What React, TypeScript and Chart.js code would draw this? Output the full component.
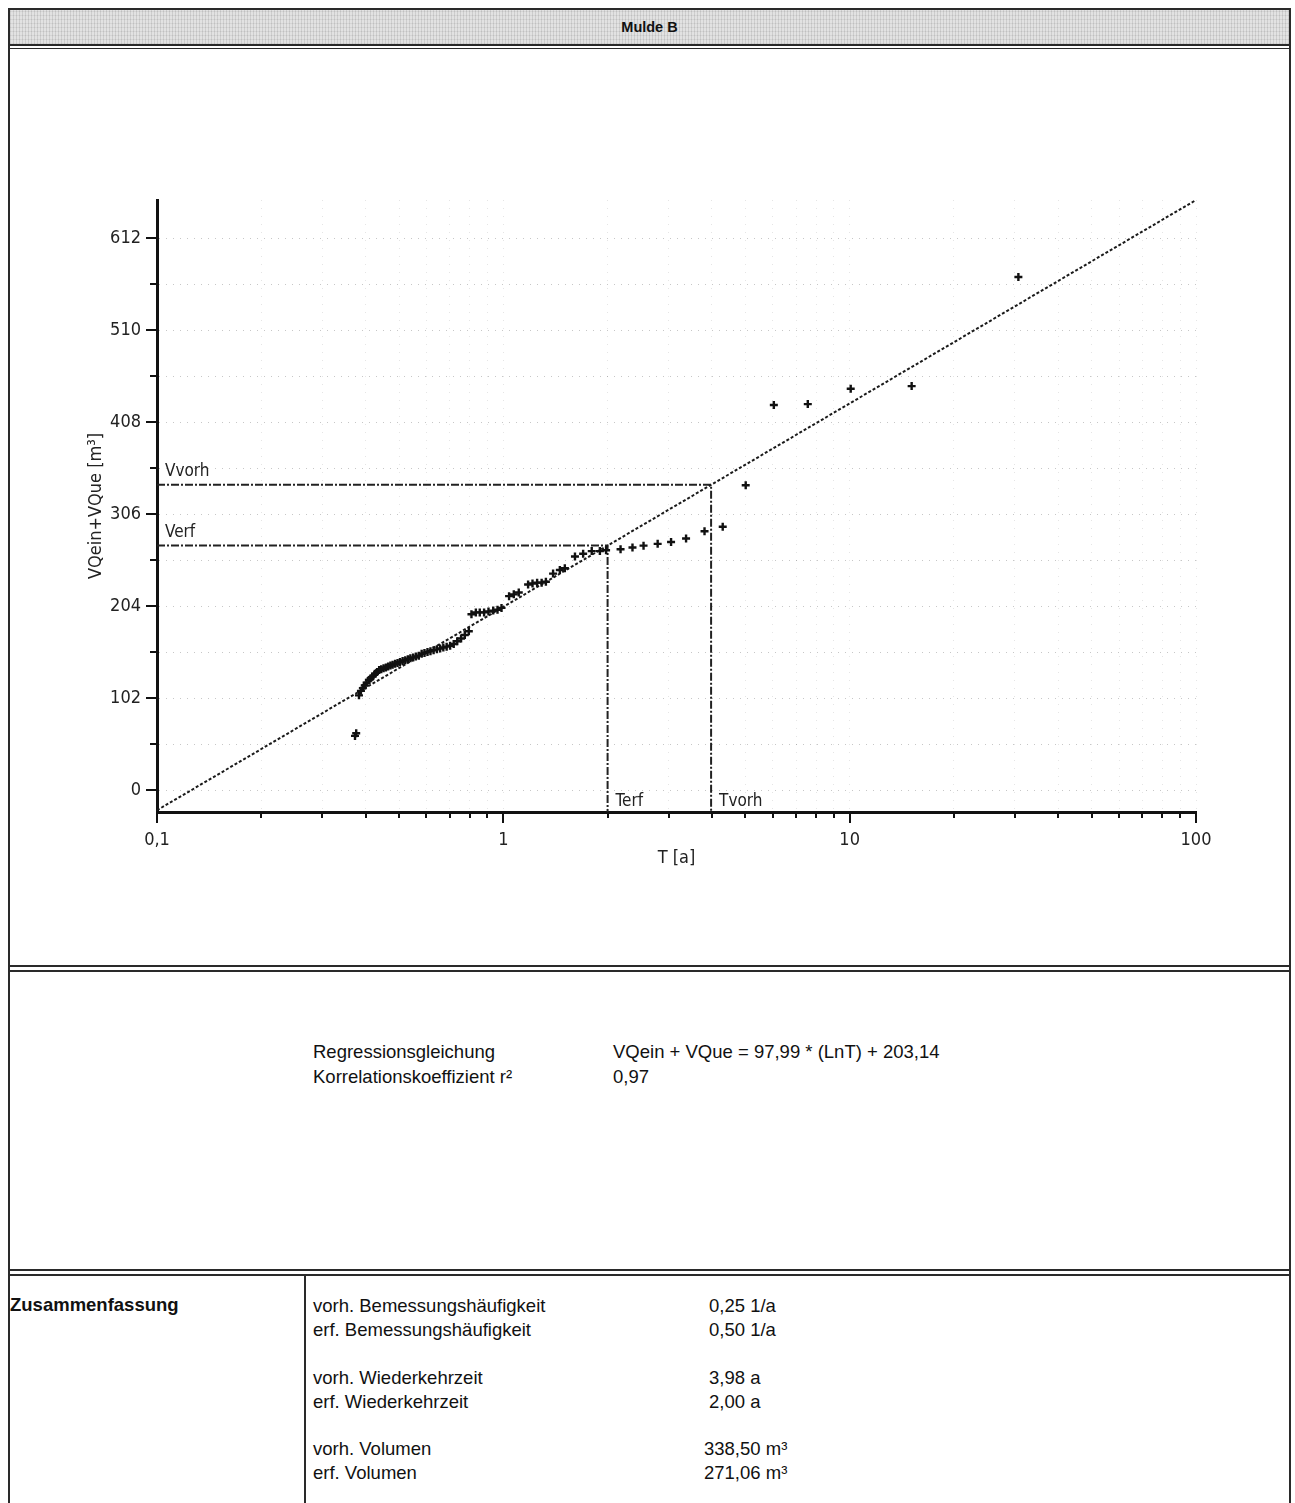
import React, { useEffect, useRef } from "react";
import { Chart, registerables } from "chart.js";
Chart.register(...registerables);

// ---- data ----
const T_VALUES = [30.7, 15.1, 10.07, 7.57, 6.04, 5.01, 4.30, 3.81, 3.37, 3.05, 2.79, 2.54, 2.36, 2.18, 1.98, 1.90, 1.80, 1.70, 1.61, 1.505, 1.456, 1.392, 1.327, 1.290, 1.252, 1.214, 1.179, 1.108, 1.072, 1.039, 0.988, 0.962, 0.935, 0.906, 0.880, 0.855, 0.833, 0.809, 0.795, 0.774, 0.755, 0.736, 0.719, 0.702, 0.686, 0.671, 0.657, 0.643, 0.629, 0.616, 0.604, 0.592, 0.581, 0.570, 0.559, 0.549, 0.539, 0.530, 0.521, 0.512, 0.503, 0.495, 0.487, 0.479, 0.472, 0.465, 0.458, 0.451, 0.444, 0.438, 0.432, 0.426, 0.420, 0.414, 0.409, 0.403, 0.398, 0.393, 0.388, 0.383, 0.376, 0.373];
const V_VALUES = [569, 448, 445, 428, 427, 338, 292, 287, 279, 275, 273, 271, 269, 267, 266, 265, 265, 262, 259, 246, 244, 240, 231, 230, 230, 229, 228, 219, 217, 215, 202, 200, 199, 198, 197, 197, 197, 195, 176, 172, 168, 165, 162, 160, 159, 158, 157, 156, 155, 154, 153, 152, 151, 149, 148, 147, 146, 145, 144, 143, 142, 141, 140, 139, 138, 137, 136, 135, 134, 133, 131, 129, 126, 124, 122, 119, 116, 113, 110, 105, 63, 60];
const REG_T = [0.1, 100];
const REG_V = [-22.49, 654.40];
const T_VORH = 3.98;
const V_VORH = 338.5;
const T_ERF = 2.0;
const V_ERF = 271.06;
const Y_MIN = -24.4;
const Y_MAX = 654.4;
const Y_TICKS = [0, 51, 102, 153, 204, 255, 306, 357, 408, 459, 510, 561, 612];
const Y_LABELED = [0, 102, 204, 306, 408, 510, 612];
const X_TICKS = [0.1, 0.2, 0.3, 0.4, 0.5, 0.6, 0.7, 0.8, 0.9, 1, 2, 3, 4, 5, 6, 7, 8, 9, 10, 20, 30, 40, 50, 60, 70, 80, 90, 100];
const X_MAJOR = [0.1, 1, 10, 100];
const X_LABELS: Record<string, string> = { "0.1": "0,1", "1": "1", "10": "10", "100": "100" };

const TITLE = "Mulde B";
const REG_LABELS = ["Regressionsgleichung", "Korrelationskoeffizient r²"];
const REG_VALUES = ["VQein + VQue = 97,99 * (LnT) + 203,14", "0,97"];
const SUMMARY_HEAD = "Zusammenfassung";
const SUMMARY_LABELS = ["vorh. Bemessungshäufigkeit", "erf. Bemessungshäufigkeit", "vorh. Wiederkehrzeit", "erf. Wiederkehrzeit", "vorh. Volumen", "erf. Volumen"];
const SUMMARY_VALUES = ["0,25 1/a", "0,50 1/a", "3,98 a", "2,00 a", "338,50 m³", "271,06 m³"];

const NARROW = "'Liberation Sans Narrow', 'DejaVu Sans', sans-serif";
const SANS = "'Liberation Sans', Arial, Helvetica, sans-serif";

const decor = {
  id: "decor",
  afterDraw(chart: any) {
    const { ctx, chartArea } = chart;
    const x = chart.scales.x;
    const y = chart.scales.y;
    ctx.save();
    ctx.strokeStyle = "#111";
    ctx.lineWidth = 2;
    ctx.setLineDash([]);
    Y_TICKS.forEach((v) => {
      const py = Math.round(y.getPixelForValue(v));
      const len = Y_LABELED.includes(v) ? 11 : 7;
      ctx.beginPath();
      ctx.moveTo(chartArea.left - len, py);
      ctx.lineTo(chartArea.left, py);
      ctx.stroke();
    });
    X_TICKS.forEach((v) => {
      const px = Math.round(x.getPixelForValue(v));
      const len = X_MAJOR.includes(v) ? 11 : 6;
      ctx.beginPath();
      ctx.moveTo(px, chartArea.bottom);
      ctx.lineTo(px, chartArea.bottom + len);
      ctx.stroke();
    });
    ctx.fillStyle = "#222";
    ctx.font = `condensed 17px ${NARROW}`;
    ctx.textBaseline = "alphabetic";
    ctx.textAlign = "left";
    ctx.fillText("Vvorh", chartArea.left + 8, y.getPixelForValue(V_VORH) - 9);
    ctx.fillText("Verf", chartArea.left + 8, y.getPixelForValue(V_ERF) - 9);
    ctx.fillText("Terf", x.getPixelForValue(T_ERF) + 8, chartArea.bottom - 6);
    ctx.fillText("Tvorh", x.getPixelForValue(T_VORH) + 8, chartArea.bottom - 6);
    ctx.restore();
  },
};

function ChartCanvas() {
  const ref = useRef<HTMLCanvasElement>(null);
  useEffect(() => {
    const font = { family: NARROW, size: 18, weight: "condensed" };
    const chart = new Chart(ref.current as HTMLCanvasElement, {
      type: "scatter",
      data: {
        datasets: [
          {
            label: "Messwerte",
            data: T_VALUES.map((t, i) => ({ x: t, y: V_VALUES[i] })),
            pointStyle: "cross",
            pointRadius: 4,
            pointBorderWidth: 2.4,
            borderColor: "#111",
            backgroundColor: "#111",
            showLine: false,
          },
          {
            label: "Regression",
            data: REG_T.map((t, i) => ({ x: t, y: REG_V[i] })),
            showLine: true,
            borderColor: "#1a1a1a",
            borderWidth: 2,
            borderDash: [3, 2],
            pointRadius: 0,
          },
          {
            label: "vorh",
            data: [
              { x: REG_T[0], y: V_VORH },
              { x: T_VORH, y: V_VORH },
              { x: T_VORH, y: Y_MIN },
            ],
            showLine: true,
            borderColor: "#222",
            borderWidth: 2,
            borderDash: [8, 2, 2, 2],
            pointRadius: 0,
          },
          {
            label: "erf",
            data: [
              { x: REG_T[0], y: V_ERF },
              { x: T_ERF, y: V_ERF },
              { x: T_ERF, y: Y_MIN },
            ],
            showLine: true,
            borderColor: "#222",
            borderWidth: 2,
            borderDash: [8, 2, 2, 2],
            pointRadius: 0,
          },
        ],
      } as any,
      options: {
        animation: false,
        responsive: false,
        devicePixelRatio: 1,
        layout: { padding: { left: 0, right: 99, top: 140, bottom: 0 } },
        plugins: { legend: { display: false }, tooltip: { enabled: false } },
        scales: {
          x: {
            type: "logarithmic",
            min: 0.1,
            max: 100,
            afterBuildTicks: (s: any) => {
              s.ticks = X_TICKS.map((v) => ({ value: v }));
            },
            afterFit: (s: any) => {
              s.height = 128;
            },
            ticks: {
              autoSkip: false,
              maxRotation: 0,
              minRotation: 0,
              padding: 18,
              font,
              color: "#222",
              callback: (v: any) => X_LABELS[String(v)] ?? "",
            },
            grid: { color: "rgba(0,0,0,0.10)", lineWidth: 1, drawTicks: false },
            border: { display: true, color: "#111", width: 3, dash: [1, 7] },
            title: { display: true, text: "T [a]", font, color: "#222", padding: { top: 0, bottom: 71 } },
          },
          y: {
            type: "linear",
            min: Y_MIN,
            max: Y_MAX,
            afterBuildTicks: (s: any) => {
              s.ticks = Y_TICKS.map((v) => ({ value: v }));
            },
            afterFit: (s: any) => {
              s.width = 157;
            },
            ticks: {
              padding: 16,
              font,
              color: "#222",
              callback: (v: any) => (Y_LABELED.includes(Number(v)) ? String(v) : ""),
            },
            grid: { color: "rgba(0,0,0,0.22)", lineWidth: 1, drawTicks: false },
            border: { display: true, color: "#111", width: 3, dash: [1, 6] },
            title: { display: true, text: "VQein+VQue [m³]", font, color: "#222", padding: { top: 86, bottom: 0 } },
          },
        },
      } as any,
      plugins: [decor],
    });
    return () => chart.destroy();
  }, []);
  return (
    <canvas
      ref={ref}
      width={1295}
      height={880}
      style={{ position: "absolute", left: 0, top: 60, width: 1295, height: 880 }}
    />
  );
}

const hLine = (top: number, h: number, left = 8, width = 1283) => (
  <div style={{ position: "absolute", left, top, width, height: h, background: "#2a2a2a" }} />
);

export default function App() {
  const text = (content: string, left: number, center: number, extra: any = {}) => (
    <div
      style={{
        position: "absolute",
        left,
        top: center - 11,
        lineHeight: "22px",
        fontFamily: SANS,
        fontSize: 18.5,
        color: "#111",
        whiteSpace: "nowrap",
        ...extra,
      }}
    >
      {content}
    </div>
  );
  const summaryCenters = [1306, 1330, 1378, 1402, 1449, 1473];
  return (
    <div style={{ position: "absolute", left: 0, top: 0, width: 1295, height: 1503, overflow: "hidden", background: "#fff" }}>
      {/* header band */}
      <div
        style={{
          position: "absolute",
          left: 10,
          top: 10,
          width: 1279,
          height: 34,
          backgroundColor: "#d9d9d9",
          backgroundImage:
            "repeating-linear-gradient(90deg, rgba(0,0,0,0.07) 0 1px, rgba(255,255,255,0.15) 1px 3px), repeating-linear-gradient(0deg, rgba(0,0,0,0.05) 0 1px, rgba(255,255,255,0.1) 1px 4px)",
          textAlign: "center",
          lineHeight: "34px",
          fontFamily: SANS,
          fontWeight: "bold",
          fontSize: 14.5,
          color: "#111",
        }}
      >
        {TITLE}
      </div>
      {hLine(8, 2)}
      {hLine(44, 2)}
      {hLine(48, 1)}
      {/* side borders */}
      <div style={{ position: "absolute", left: 8, top: 8, width: 2, height: 1495, background: "#2a2a2a" }} />
      <div style={{ position: "absolute", left: 1289, top: 8, width: 2, height: 1495, background: "#2a2a2a" }} />

      <ChartCanvas />

      {hLine(965, 2)}
      {hLine(970, 2)}

      {text(REG_LABELS[0], 313, 1052)}
      {text(REG_LABELS[1], 313, 1077)}
      {text(REG_VALUES[0], 613, 1052)}
      {text(REG_VALUES[1], 613, 1077)}

      {hLine(1269, 2)}
      {hLine(1274, 2)}
      <div style={{ position: "absolute", left: 304, top: 1276, width: 2, height: 227, background: "#2a2a2a" }} />

      {text(SUMMARY_HEAD, 10, 1305, { fontWeight: "bold" })}
      {SUMMARY_LABELS.map((l, i) => (
        <React.Fragment key={l}>
          {text(l, 313, summaryCenters[i])}
          {text(SUMMARY_VALUES[i], SUMMARY_VALUES[i].endsWith("m³") ? 704 : 709, summaryCenters[i])}
        </React.Fragment>
      ))}
    </div>
  );
}
